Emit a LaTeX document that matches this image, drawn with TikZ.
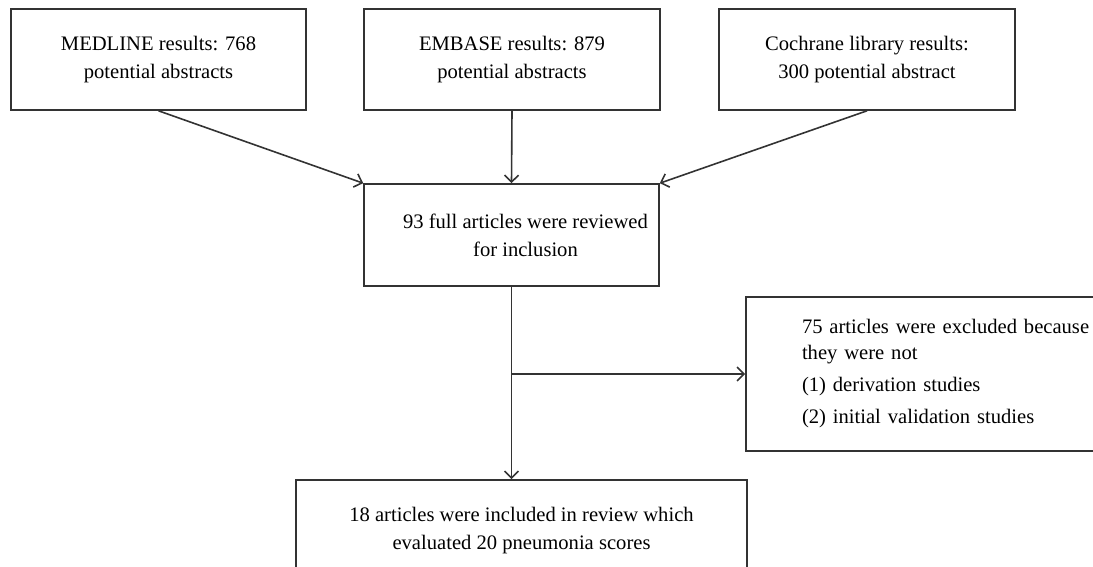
\documentclass[tikz,border=0pt]{standalone}
\usepackage{fontspec}
\setmainfont{Liberation Serif}
\usetikzlibrary{arrows.meta}
\definecolor{boxline}{HTML}{333333}
\tikzstyle{record}=[draw=boxline, line width=0.8pt, inner sep=0, align=center, font=\fontsize{10.3}{14}\selectfont]
\tikzstyle{flow}=[boxline, line width=0.8pt, -{Straight Barb[length=3.5pt, width=7pt]}]

\begin{document}
\begin{tikzpicture}[x=0.5pt, y=-0.5pt]

\useasboundingbox (0, 0) rectangle (1093, 567);

\node [record, minimum width=147.5pt, minimum height=50.5pt] (medline)  at (158.5, 59.5) {MEDLINE results: 768\\potential abstracts};
\node [record, minimum width=148pt,   minimum height=50.5pt] (embase)   at (512, 59.5)   {EMBASE results: 879\\potential abstracts};
\node [record, minimum width=148pt,   minimum height=50.5pt] (cochrane) at (867, 59.5)   {Cochrane library results:\\300 potential abstract};

\node [record, minimum width=147.5pt, minimum height=51pt] (review) at (511.5, 235) {\hspace*{14pt}93 full articles were reviewed\\\hspace*{14pt}for inclusion};

\node [record, minimum width=246pt, minimum height=77pt, text width=190pt, align=left, font=\fontsize{10.3}{13}\selectfont] (excluded) at (992, 374)
  {75 articles were excluded because\\they were not\\[3pt](1) derivation studies\\[3pt](2) initial validation studies};

\node [record, minimum width=225.5pt, minimum height=51pt] (included) at (521.5, 531) {18 articles were included in review which\\evaluated 20 pneumonia scores};

\draw [flow] (medline.south)  -- (review.north west);
\draw [flow] (embase.south)   -- (review.north);
\draw [flow] (cochrane.south) -- (review.north east);

\draw [flow] (review.south) -- (review.south |- included.north);
\draw [flow] (review.south |- excluded.west) -- (excluded.west);

\end{tikzpicture}
\end{document}
